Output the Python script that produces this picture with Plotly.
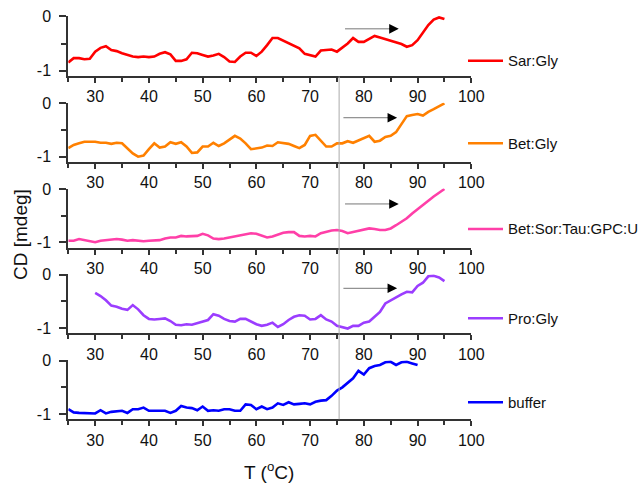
import plotly.graph_objects as go

W, H = 642, 484

# ---------------- data ----------------
T_full = list(range(25, 96))
sar_gly = [-0.85, -0.77, -0.77, -0.79, -0.78, -0.65, -0.58, -0.55, -0.62, -0.64,
           -0.68, -0.71, -0.74, -0.75, -0.74, -0.75, -0.74, -0.69, -0.66, -0.70,
           -0.82, -0.82, -0.79, -0.67, -0.68, -0.71, -0.74, -0.72, -0.69, -0.75,
           -0.83, -0.84, -0.74, -0.67, -0.67, -0.73, -0.65, -0.53, -0.40, -0.40,
           -0.45, -0.50, -0.55, -0.59, -0.69, -0.72, -0.74, -0.63, -0.62, -0.61,
           -0.65, -0.58, -0.50, -0.40, -0.47, -0.47, -0.42, -0.36, -0.39, -0.42,
           -0.45, -0.47, -0.51, -0.56, -0.53, -0.44, -0.29, -0.16, -0.06, -0.02,
           -0.05]
bet_gly = [-0.84, -0.78, -0.75, -0.72, -0.72, -0.72, -0.74, -0.74, -0.76, -0.74,
           -0.75, -0.84, -0.94, -1.00, -0.98, -0.86, -0.75, -0.83, -0.81, -0.73,
           -0.76, -0.73, -0.81, -0.93, -0.92, -0.81, -0.81, -0.74, -0.80, -0.75,
           -0.68, -0.61, -0.66, -0.75, -0.86, -0.85, -0.83, -0.79, -0.80, -0.73,
           -0.74, -0.76, -0.80, -0.84, -0.78, -0.61, -0.59, -0.70, -0.81, -0.81,
           -0.75, -0.75, -0.71, -0.74, -0.70, -0.66, -0.61, -0.72, -0.70, -0.63,
           -0.61, -0.54, -0.39, -0.24, -0.22, -0.20, -0.23, -0.16, -0.11, -0.06,
           0.00]
bet_sor = [-0.97, -0.97, -0.94, -0.96, -0.99, -1.00, -0.97, -0.96, -0.94, -0.94,
           -0.95, -0.97, -0.96, -0.97, -0.98, -0.97, -0.96, -0.96, -0.93, -0.91,
           -0.91, -0.88, -0.89, -0.89, -0.88, -0.84, -0.87, -0.93, -0.94, -0.93,
           -0.91, -0.88, -0.86, -0.84, -0.83, -0.84, -0.88, -0.91, -0.89, -0.85,
           -0.82, -0.81, -0.81, -0.88, -0.89, -0.88, -0.89, -0.83, -0.80, -0.78,
           -0.77, -0.79, -0.83, -0.81, -0.79, -0.77, -0.74, -0.75, -0.77, -0.77,
           -0.74, -0.68, -0.62, -0.55, -0.46, -0.38, -0.29, -0.21, -0.14, -0.07,
           0.00]
T_pro = list(range(30, 96))
pro_gly = [-0.34, -0.40, -0.48, -0.58, -0.60, -0.64, -0.66, -0.57, -0.65, -0.76,
           -0.83, -0.84, -0.83, -0.82, -0.87, -0.94, -0.95, -0.93, -0.94, -0.91,
           -0.89, -0.85, -0.74, -0.77, -0.83, -0.87, -0.88, -0.83, -0.83, -0.88,
           -0.93, -0.96, -0.94, -0.90, -0.98, -0.93, -0.85, -0.79, -0.76, -0.77,
           -0.84, -0.83, -0.76, -0.84, -0.88, -0.96, -0.99, -1.01, -0.96, -0.96,
           -0.90, -0.88, -0.79, -0.70, -0.54, -0.48, -0.43, -0.37, -0.32, -0.33,
           -0.21, -0.15, -0.03, -0.02, -0.05, -0.12]
T_buf = list(range(25, 91))
buffer = [-0.91, -0.97, -0.98, -0.98, -0.98, -0.99, -0.93, -0.99, -0.96, -0.95,
          -0.94, -0.98, -0.91, -0.91, -0.88, -0.94, -0.94, -0.94, -0.94, -0.98,
          -0.94, -0.85, -0.88, -0.89, -0.93, -0.86, -0.94, -0.93, -0.94, -0.91,
          -0.91, -0.94, -0.94, -0.82, -0.83, -0.91, -0.86, -0.91, -0.88, -0.80,
          -0.83, -0.78, -0.82, -0.81, -0.80, -0.82, -0.77, -0.75, -0.74, -0.66,
          -0.56, -0.50, -0.41, -0.33, -0.19, -0.26, -0.14, -0.10, -0.08, -0.03,
          -0.02, -0.08, -0.03, -0.02, -0.05, -0.08]

names = ["Sar:Gly", "Bet:Gly", "Bet:Sor:Tau:GPC:U", "Pro:Gly", "buffer"]
xs = [T_full, T_full, T_full, T_pro, T_buf]
ys = [sar_gly, bet_gly, bet_sor, pro_gly, buffer]
colors = ["#FF0000", "#FF8000", "#FF3FA8", "#9B3DFF", "#0000FF"]

x_ticks = [30, 40, 50, 60, 70, 80, 90, 100]
y_ticks = [-1, 0]
y_ticktext = ["-1", "0"]

# arrows (start T, end T, level) per panel
arrows = [(76.5, 86.5, -0.23), (76.2, 86.2, -0.27), (76.5, 86.5, -0.28), (76.2, 86.2, -0.255)]
vline_T = 75.4

# ---------------- layout geometry (pixels) ----------------
x_left, x_right = 68.3, 471.3
panel_px = [(15.8, 76.1), (102.8, 162.0), (188.5, 247.6), (274.2, 333.3), (360.2, 419.3)]
legend_y = [60.7, 143.3, 229.0, 318.3, 402.3]

fig = go.Figure()
axcol = "#333333"
font_family = "Liberation Sans, Arial, sans-serif"

layout = dict(
    width=W, height=H, autosize=False,
    margin=dict(l=0, r=0, t=0, b=0, pad=0, autoexpand=False),
    paper_bgcolor="white", plot_bgcolor="white",
    showlegend=False,
    font=dict(family=font_family, size=15, color="#111111"),
)

shapes = []
annotations = []

for i in range(5):
    n = i + 1
    xa = "x" if n == 1 else f"x{n}"
    ya = "y" if n == 1 else f"y{n}"
    fig.add_trace(go.Scatter(x=xs[i], y=ys[i], mode="lines", name=names[i],
                             line=dict(color=colors[i], width=2.6),
                             xaxis=xa, yaxis=ya))
    top, bot = panel_px[i]
    layout[f"xaxis{'' if n == 1 else n}"] = dict(
        domain=[x_left / W, x_right / W], anchor=ya, range=[25, 100],
        tickvals=x_ticks, ticks="outside", ticklen=5, tickwidth=1.5, tickcolor=axcol,
        minor=dict(tickvals=[25, 35, 45, 55, 65, 75, 85, 95], ticks="outside",
                   ticklen=4, tickwidth=1.5, tickcolor=axcol),
        showline=True, linecolor=axcol, linewidth=2, showgrid=False, zeroline=False,
        tickfont=dict(size=16, color="#111111"), fixedrange=True, automargin=False,
    )
    layout[f"yaxis{'' if n == 1 else n}"] = dict(
        domain=[1 - bot / H, 1 - top / H], anchor=xa, range=[-1.1, 0.01],
        tickvals=y_ticks, ticktext=y_ticktext, ticks="outside", ticklen=7,
        tickwidth=1.5, tickcolor=axcol, ticklabelstandoff=5,
        minor=dict(tickvals=[-0.5], ticks="outside", ticklen=5, tickwidth=1.5, tickcolor=axcol),
        showline=True, linecolor=axcol, linewidth=2, showgrid=False, zeroline=False,
        tickfont=dict(size=16, color="#111111"), fixedrange=True, automargin=False,
    )
    # legend sample and label
    ly = 1 - legend_y[i] / H
    shapes.append(dict(type="line", xref="paper", yref="paper",
                       x0=468 / W, x1=503 / W, y0=ly, y1=ly,
                       line=dict(color=colors[i], width=2.6)))
    annotations.append(dict(text=names[i], xref="paper", yref="paper",
                            x=506 / W, y=ly, xanchor="left", yanchor="middle",
                            showarrow=False, font=dict(size=15, color="#111111")))
    # arrows
    if i < 4:
        a0, a1, lv = arrows[i]
        shapes.append(dict(type="line", xref=xa, yref=ya, x0=a0, x1=a1 - 1.5,
                           y0=lv, y1=lv, line=dict(color="#777777", width=1)))
        annotations.append(dict(xref=xa, yref=ya, axref=xa, ayref=ya,
                                x=a1, y=lv, ax=a1 - 2.0, ay=lv, text="",
                                showarrow=True, arrowhead=2, arrowsize=1.6,
                                arrowwidth=1.2, arrowcolor="#000000"))

# vertical guide line
shapes.append(dict(type="line", xref="x5", yref="paper", x0=vline_T, x1=vline_T,
                   y0=1 - 419.3 / H, y1=1 - 76.5 / H,
                   line=dict(color="#AAAAAA", width=1)))

# axis titles
annotations.append(dict(text="T (<sup>o</sup>C)", xref="paper", yref="paper",
                        x=269 / W, y=1 - 471 / H, xanchor="center", yanchor="middle",
                        showarrow=False, font=dict(size=19, color="#111111")))
annotations.append(dict(text="CD [mdeg]", xref="paper", yref="paper",
                        x=20 / W, y=1 - 235 / H, xanchor="center", yanchor="middle",
                        textangle=-90, showarrow=False,
                        font=dict(size=19, color="#111111")))

layout["shapes"] = shapes
layout["annotations"] = annotations
fig.update_layout(**layout)

fig.write_html("out.html", config={"displayModeBar": False},
               post_script="document.body.style.margin='0';document.body.style.padding='0';")
